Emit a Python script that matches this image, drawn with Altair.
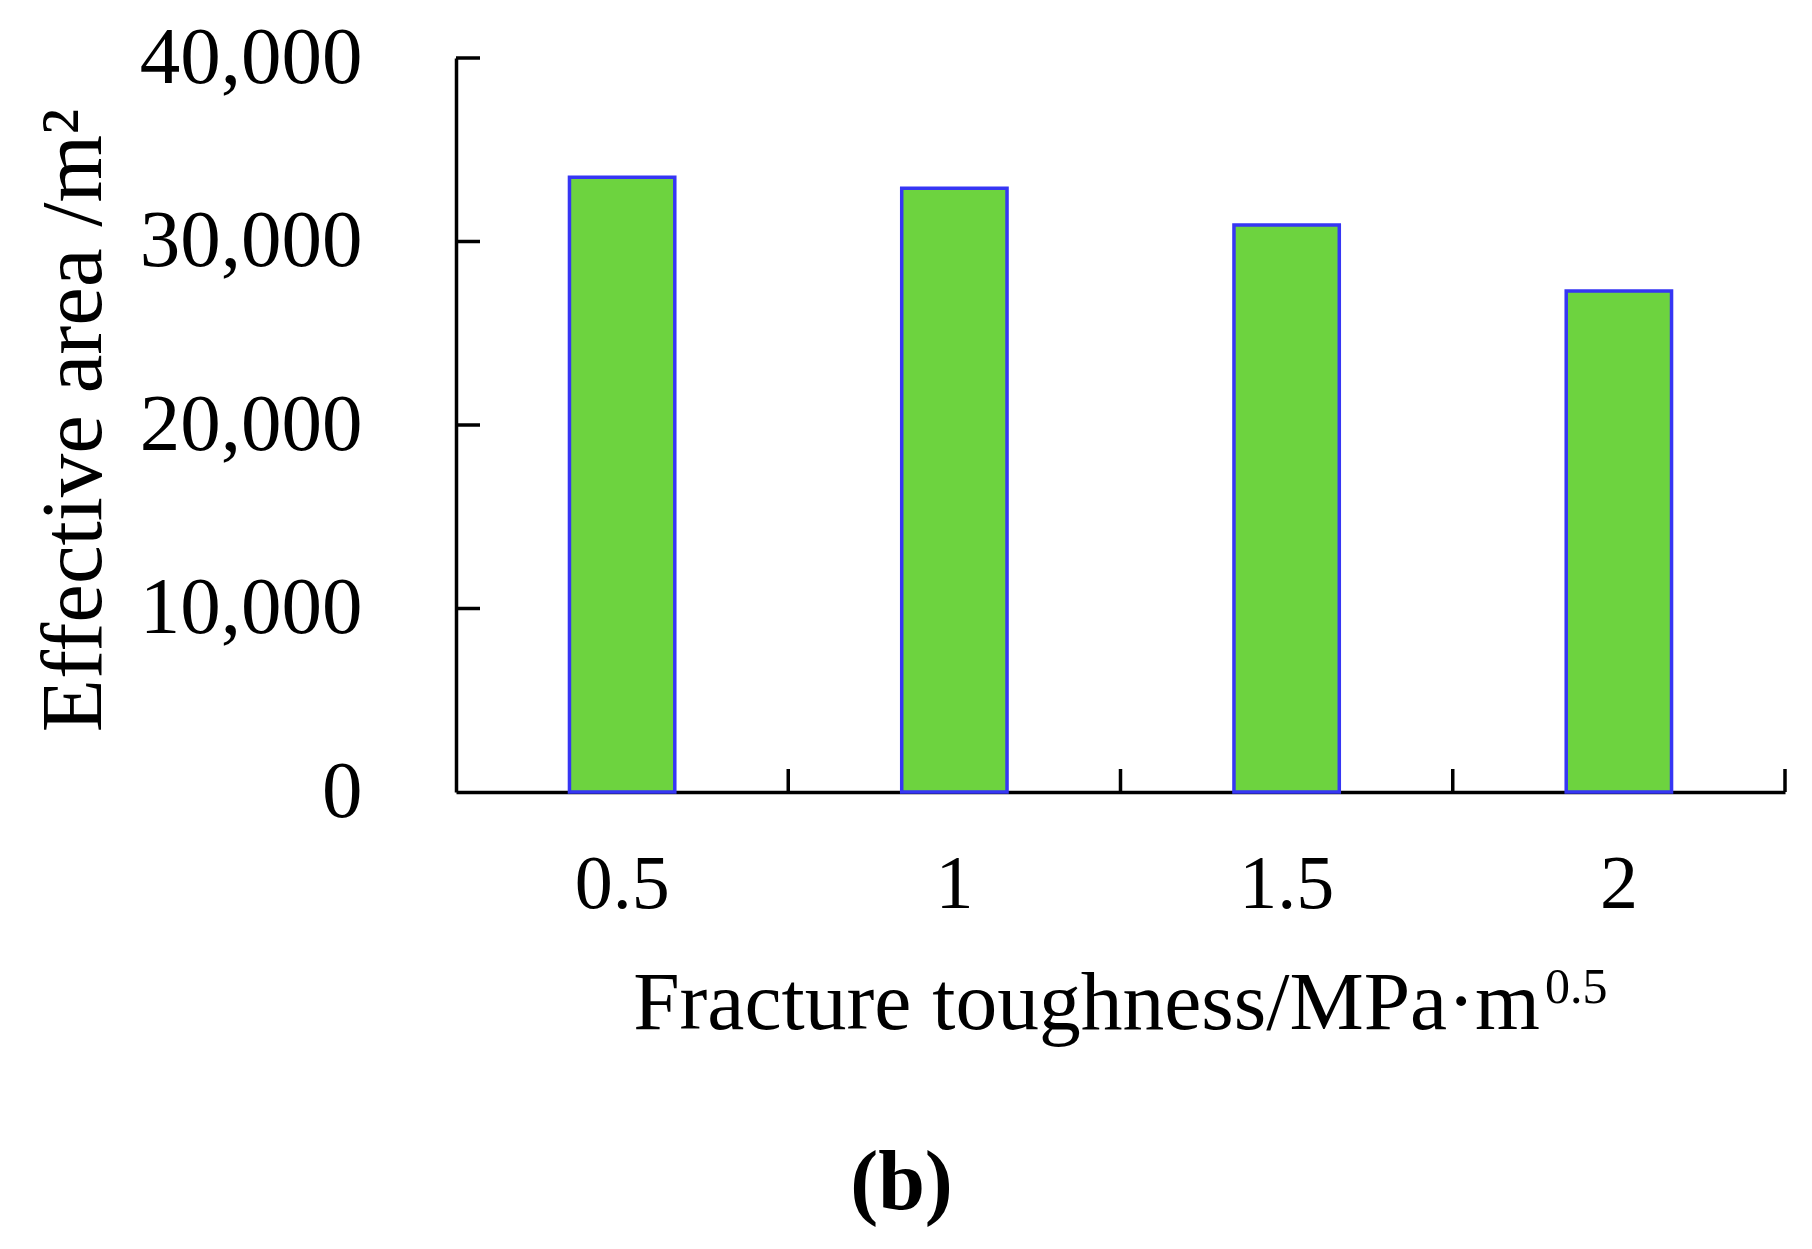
import altair as alt
import pandas as pd

categories = ["0.5", "1", "1.5", "2"]
effective_area = [33500, 32900, 30900, 27300]
y_tick_values = [10000, 20000, 30000, 40000]

bars_df = pd.DataFrame({"toughness": categories, "area": effective_area})
ytick_df = pd.DataFrame({"area": y_tick_values})
xtick_df = pd.DataFrame({"toughness": categories})

W, H = 1329, 734
FONT = "Liberation Serif"
LINE_W = 3.5

x_scale = alt.Scale(domain=categories, paddingInner=0, paddingOuter=0)
y_scale = alt.Scale(domain=[0, 40000], nice=False)

x_axis = alt.Axis(
    title="Fracture toughness/MPa·m",
    titleFont=FONT,
    titleFontSize=83.5,
    titleFontWeight="normal",
    titleColor="black",
    titleBaseline="alphabetic",
    titleAlign="center",
    titleX=630,
    titleY=236,
    labelAngle=0,
    labelFont=FONT,
    labelFontSize=76,
    labelColor="black",
    labelBaseline="top",
    labelPadding=55,
    ticks=False,
    tickSize=0,
    domainColor="black",
    domainWidth=LINE_W,
    grid=False,
)

y_axis = alt.Axis(
    title="Effective area /m²",
    titleFont=FONT,
    titleFontSize=87,
    titleFontWeight="normal",
    titleColor="black",
    titleAngle=270,
    titleBaseline="middle",
    titleAlign="center",
    titleX=-382,
    titleY=362,
    values=[0, 10000, 20000, 30000, 40000],
    format=",d",
    labelFont=FONT,
    labelFontSize=81,
    labelColor="black",
    labelPadding=94,
    labelLimit=0,
    ticks=False,
    tickSize=0,
    domainColor="black",
    domainWidth=LINE_W,
    grid=False,
)

bars = alt.Chart(bars_df).mark_bar(
    width=alt.RelativeBandSize(0.317),
    color="#6dd33f",
    stroke="#3636f4",
    strokeWidth=3.5,
).encode(
    x=alt.X("toughness:N", scale=x_scale, sort=categories, axis=x_axis),
    y=alt.Y("area:Q", scale=y_scale, axis=y_axis),
)

yticks = alt.Chart(ytick_df).mark_rule(color="black", strokeWidth=LINE_W).encode(
    y=alt.Y("area:Q", scale=y_scale, axis=y_axis),
    x=alt.value(0),
    x2=alt.value(24),
)

xticks = alt.Chart(xtick_df).mark_rule(color="black", strokeWidth=LINE_W).encode(
    x=alt.X("toughness:N", scale=x_scale, sort=categories, bandPosition=1, axis=x_axis),
    y=alt.value(H),
    y2=alt.value(H - 23),
)

# superscript exponent of the x-axis title unit
x_title_exponent = alt.Chart(pd.DataFrame({"t": ["0.5"]})).mark_text(
    font=FONT, fontSize=50, color="black", align="left", baseline="alphabetic"
).encode(
    text="t:N",
    x=alt.value(1089),
    y=alt.value(945),
)

chart = alt.layer(bars, yticks, xticks, x_title_exponent).properties(
    width=W,
    height=H,
    background="white",
    title=alt.TitleParams(
        "(b)",
        orient="bottom",
        anchor="middle",
        font=FONT,
        fontSize=84,
        fontWeight="bold",
        color="black",
        dx=-219,
        offset=98,
    ),
    padding={"left": 448, "top": 50, "right": 19, "bottom": 449},
    autosize=alt.AutoSizeParams(type="none"),
).configure_view(stroke=None)

chart.save("out.html", embed_options={"renderer": "svg", "actions": False})
